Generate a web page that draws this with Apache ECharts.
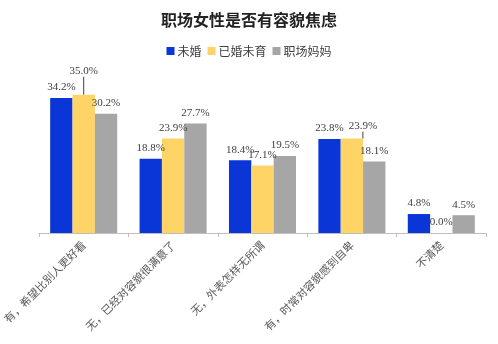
<!DOCTYPE html>
<html>
<head>
<meta charset="utf-8">
<script src="https://cdn.jsdelivr.net/npm/echarts@6/dist/echarts.min.js"></script>
<style>
html,body{margin:0;padding:0;background:#fff;}
#chart{width:498px;height:344px;}
</style>
</head>
<body>
<div id="chart"></div>
<script>
const titleText = '职场女性是否有容貌焦虑';
const categories = ['有，希望比别人更好看', '无，已经对容貌很满意了', '无，外表怎样无所谓', '有，时常对容貌感到自卑', '不清楚'];
const seriesNames = ['未婚', '已婚未育', '职场妈妈'];
const unmarried = [34.2, 18.8, 18.4, 23.8, 4.8];
const marriedNoChild = [35.0, 23.9, 17.1, 23.9, 0.0];
const workingMom = [30.2, 27.7, 19.5, 18.1, 4.5];
const colors = ['#0A36D8', '#FFD466', '#A6A6A6'];

// label nudges (dx, dy) for crowded labels, keyed by series then category
const nudges = [
  {},
  {0: [0, -13], 3: [11, -2]},
  {}
];

const labelFont = {
  show: true,
  position: 'top',
  distance: 5,
  fontFamily: 'Liberation Serif',
  fontSize: 11,
  color: '#404040',
  formatter: p => p.value.toFixed(1) + '%'
};

function makeSeries(i, values) {
  // moved labels get a guide line back to their bar
  const data = values.map((v, k) => nudges[i][k]
    ? {value: v, labelLine: {show: true}}
    : {value: v});
  return {
    name: seriesNames[i],
    type: 'bar',
    data: data,
    barGap: '0%',
    barCategoryGap: '25%',
    itemStyle: {color: colors[i]},
    label: labelFont,
    labelLine: {show: false, lineStyle: {color: '#404040', width: 1}},
    labelLayout: function (p) {
      const n = nudges[i][p.dataIndex];
      return n ? {dx: n[0], dy: n[1]} : {};
    }
  };
}

const chart = echarts.init(document.getElementById('chart'));
chart.setOption({
  animation: false,
  backgroundColor: '#fff',
  title: {
    text: titleText,
    left: 'center',
    top: 7,
    textStyle: {fontFamily: 'Noto Sans CJK SC', fontSize: 16, fontWeight: 'bold', color: '#222'}
  },
  legend: {
    top: 40,
    left: 'center',
    itemWidth: 8,
    itemHeight: 8,
    itemGap: 6,
    icon: 'rect',
    textStyle: {fontFamily: 'Noto Sans CJK SC', fontSize: 12, color: '#404040', padding: [0, 0, 0, -2]},
    data: seriesNames
  },
  grid: {left: 38, right: 12, top: 75, bottom: 111, containLabel: false},
  xAxis: {
    type: 'category',
    data: categories,
    axisLine: {lineStyle: {color: '#BFBFBF'}},
    axisTick: {show: true, length: 4, lineStyle: {color: '#BFBFBF'}},
    axisLabel: {
      interval: 0,
      rotate: 45,
      fontFamily: 'Noto Sans CJK SC',
      fontSize: 11,
      color: '#595959',
      margin: 10
    }
  },
  yAxis: {
    type: 'value',
    min: 0,
    max: 40,
    show: false,
    splitLine: {show: false}
  },
  series: [
    makeSeries(0, unmarried),
    makeSeries(1, marriedNoChild),
    makeSeries(2, workingMom)
  ]
});
</script>
</body>
</html>
